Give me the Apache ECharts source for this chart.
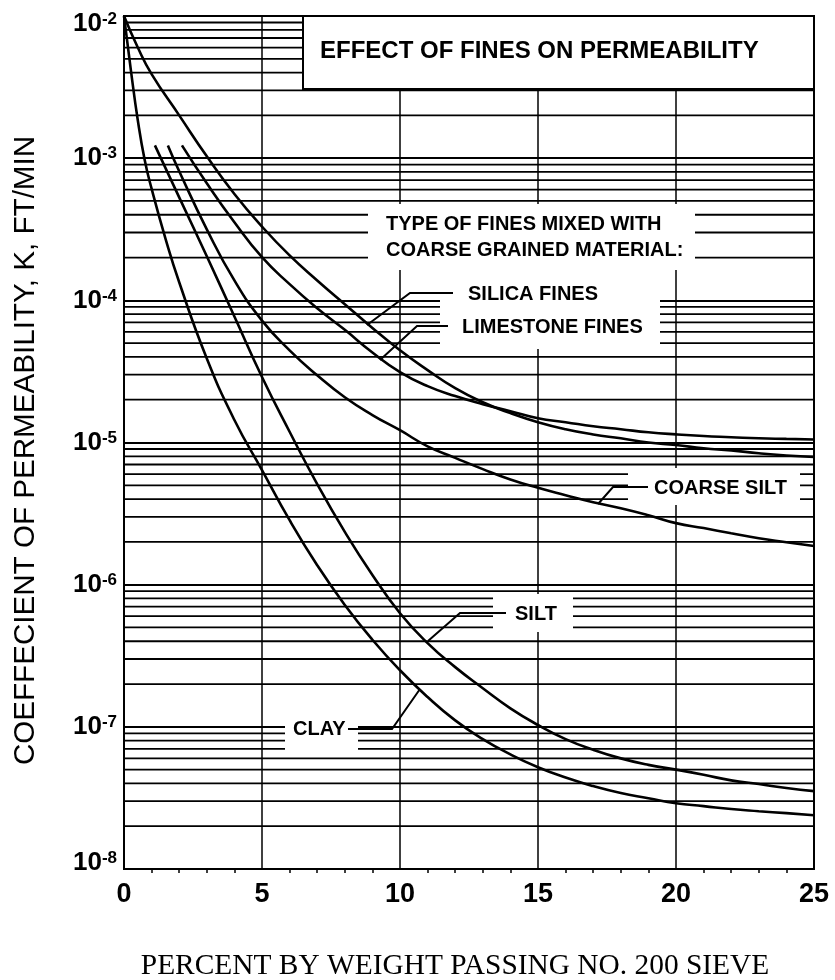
<!DOCTYPE html>
<html>
<head>
<meta charset="utf-8">
<script src="https://cdn.jsdelivr.net/npm/echarts@6/dist/echarts.min.js"></script>
<style>
html,body{margin:0;padding:0;background:#fff;}
#chart{width:835px;height:980px;}
</style>
</head>
<body>
<div id="chart"></div>
<script>
// ---------------- data ----------------
const xTickLabels = ['0', '5', '10', '15', '20', '25'];
const yMin = 1e-8, yMax = 1e-2;
const minorMultipliers = [2, 3, 4, 5, 6, 7, 8, 9];

const silicaX = [0, 0.5, 1, 2, 3, 4, 5, 6, 7, 8, 9, 10, 11, 12, 13, 14, 15, 16, 17, 18, 19, 20, 21, 22, 23, 24, 25];
const silicaK = [1.0e-2, 6.0e-3, 3.9e-3, 2.0e-3, 1.03e-3, 5.6e-4, 3.3e-4, 2.07e-4, 1.38e-4, 9.4e-5, 6.4e-5, 4.45e-5, 3.23e-5, 2.41e-5, 1.92e-5, 1.61e-5, 1.39e-5, 1.24e-5, 1.14e-5, 1.07e-5, 1.0e-5, 9.6e-6, 9.1e-6, 8.8e-6, 8.4e-6, 8.1e-6, 7.9e-6];

const limestoneX = [2.1, 3, 4, 5, 6, 7, 8, 9, 10, 11, 12, 13, 14, 15, 16, 17, 18, 19, 20, 21, 22, 23, 24, 25];
const limestoneK = [1.23e-3, 6.65e-4, 3.54e-4, 2.01e-4, 1.30e-4, 8.8e-5, 6.2e-5, 4.3e-5, 3.13e-5, 2.49e-5, 2.12e-5, 1.86e-5, 1.66e-5, 1.48e-5, 1.39e-5, 1.30e-5, 1.24e-5, 1.18e-5, 1.14e-5, 1.11e-5, 1.09e-5, 1.07e-5, 1.06e-5, 1.05e-5];

const coarseSiltX = [1.59, 2, 3, 4, 5, 6, 7, 8, 9, 10, 11, 12, 13, 14, 15, 16, 17, 18, 19, 20, 21, 22, 23, 24, 25];
const coarseSiltK = [1.23e-3, 8.1e-4, 3.16e-4, 1.38e-4, 7.2e-5, 4.45e-5, 2.97e-5, 2.08e-5, 1.56e-5, 1.22e-5, 9.4e-6, 7.8e-6, 6.5e-6, 5.5e-6, 4.8e-6, 4.26e-6, 3.8e-6, 3.45e-6, 3.08e-6, 2.71e-6, 2.5e-6, 2.3e-6, 2.12e-6, 1.99e-6, 1.87e-6];

const siltX = [1.12, 2, 3, 4, 5, 6, 7, 8, 9, 10, 11, 12, 13, 14, 15, 16, 17, 18, 19, 20, 21, 22, 23, 24, 25];
const siltK = [1.23e-3, 5.3e-4, 2.04e-4, 7.7e-5, 2.89e-5, 1.19e-5, 5.1e-6, 2.35e-6, 1.17e-6, 6.3e-7, 3.88e-7, 2.63e-7, 1.87e-7, 1.35e-7, 1.03e-7, 8.2e-8, 6.9e-8, 6.0e-8, 5.4e-8, 5.0e-8, 4.6e-8, 4.2e-8, 3.96e-8, 3.71e-8, 3.53e-8];

const clayX = [0, 0.25, 0.5, 0.75, 1, 1.5, 2, 3, 4, 5, 6, 7, 8, 9, 10, 11, 12, 13, 14, 15, 16, 17, 18, 19, 20, 21, 22, 23, 24, 25];
const clayK = [1.0e-2, 4.15e-3, 1.85e-3, 9.7e-4, 6.1e-4, 2.73e-4, 1.34e-4, 3.9e-5, 1.44e-5, 6.4e-6, 2.84e-6, 1.37e-6, 7.2e-7, 4.1e-7, 2.5e-7, 1.62e-7, 1.11e-7, 8.2e-8, 6.4e-8, 5.2e-8, 4.4e-8, 3.83e-8, 3.42e-8, 3.15e-8, 2.9e-8, 2.77e-8, 2.64e-8, 2.55e-8, 2.47e-8, 2.39e-8];

// ---------------- chart ----------------
const SANS = '"Liberation Sans", Arial, sans-serif';
const SERIF = '"Liberation Serif", "Times New Roman", serif';
const chart = echarts.init(document.getElementById('chart'), null, {renderer: 'canvas'});

function pairs(xs, ys) { return xs.map((x, i) => [x, ys[i]]); }

// minor horizontal grid values (2..9 x each decade of the axis)
const minorGrid = [];
for (let e = Math.round(Math.log10(yMin)); e < Math.round(Math.log10(yMax)); e++) {
  minorMultipliers.forEach(m => minorGrid.push([0, m * Math.pow(10, e)]));
}

function curve(name, xs, ys) {
  return {
    name: name, type: 'line', data: pairs(xs, ys), smooth: 0.5,
    symbol: 'none', z: 5, silent: true,
    lineStyle: {color: '#000', width: 2.6}
  };
}

function label(text, x, y, size) {
  return {type: 'text', x: x, y: y, z: 10, silent: true,
    style: {text: text, fontFamily: SANS, fontWeight: 'bold', fontSize: size || 20,
      fill: '#000', align: 'left', verticalAlign: 'middle'}};
}
function leader(points) {
  return {type: 'polyline', z: 10, silent: true, shape: {points: points},
    style: {stroke: '#000', lineWidth: 2, fill: null}};
}
function mask(x, y, w, h) {
  return {type: 'rect', z: 3, silent: true, shape: {x: x, y: y, width: w, height: h},
    style: {fill: '#fff', stroke: null}};
}

const option = {
  animation: false,
  backgroundColor: '#fff',
  grid: {left: 124, right: 21, top: 16, bottom: 111, containLabel: false, outerBoundsMode: 'none',
    show: true, borderColor: '#000', borderWidth: 2, backgroundColor: 'transparent'},
  xAxis: {
    type: 'value', min: 0, max: 25, interval: 5,
    name: 'PERCENT BY WEIGHT PASSING NO. 200 SIEVE',
    nameLocation: 'middle', nameGap: 83,
    nameTextStyle: {fontFamily: SERIF, fontSize: 29.4, color: '#000', padding: [0, 28, 0, 0]},
    axisLine: {show: true, lineStyle: {color: '#000', width: 2}},
    axisTick: {show: false},
    minorTick: {show: true, splitNumber: 5, length: 4, lineStyle: {color: '#000', width: 1.5}},
    axisLabel: {
      margin: 12, fontFamily: SANS, fontSize: 27, fontWeight: 'bold', color: '#000',
      showMinLabel: true, showMaxLabel: true,
      formatter: (v) => xTickLabels[Math.round(v / 5)]
    },
    splitLine: {show: true, lineStyle: {color: '#000', width: 1.5}}
  },
  yAxis: {
    type: 'log', logBase: 10, min: yMin, max: yMax,
    name: 'COEFFECIENT OF PERMEABILITY, K, FT/MIN',
    nameLocation: 'middle', nameGap: 83,
    nameTextStyle: {fontFamily: SANS, fontSize: 29.6, color: '#000', padding: [0, 16, 0, 0]},
    axisLine: {show: true, lineStyle: {color: '#000', width: 2}},
    axisTick: {show: false},
    splitLine: {show: true, lineStyle: {color: '#000', width: 1.8}},
    axisLabel: {
      margin: 7, color: '#000',
      formatter: function (v) {
        const e = Math.round(Math.log10(v));
        const core = '{b|10}{s|' + e + '}';
        if (e === Math.round(Math.log10(yMax))) return '{g1| }\n' + core;
        if (e === Math.round(Math.log10(yMin))) return core + '\n{g2| }';
        return core;
      },
      rich: {
        b: {fontFamily: SANS, fontSize: 26, fontWeight: 'bold', color: '#000', lineHeight: 26},
        s: {fontFamily: SANS, fontSize: 17, fontWeight: 'bold', color: '#000', lineHeight: 16, verticalAlign: 'top'},
        g1: {fontSize: 1, lineHeight: 16},
        g2: {fontSize: 1, lineHeight: 12}
      }
    }
  },
  series: [
    {
      name: 'minor grid', type: 'custom', z: 1, silent: true,
      data: minorGrid,
      encode: {x: 0, y: 1},
      renderItem: function (params, api) {
        const v = api.value(1);
        const p1 = api.coord([0, v]);
        const p2 = api.coord([25, v]);
        return {type: 'line', shape: {x1: p1[0], y1: p1[1], x2: p2[0], y2: p2[1]},
          style: {stroke: '#000', lineWidth: 1.8}};
      }
    },
    curve('SILICA FINES', silicaX, silicaK),
    curve('LIMESTONE FINES', limestoneX, limestoneK),
    curve('COARSE SILT', coarseSiltX, coarseSiltK),
    curve('SILT', siltX, siltK),
    curve('CLAY', clayX, clayK)
  ],
  graphic: {
    elements: [
      // title box
      {type: 'rect', z: 3, silent: true, shape: {x: 303, y: 16, width: 511, height: 73},
        style: {fill: '#fff', stroke: '#000', lineWidth: 2}},
      // white label backgrounds interrupting the grid
      mask(368, 204, 327, 66),
      mask(440, 270, 220, 79),
      mask(628, 468, 172, 37),
      mask(493, 594, 80, 38),
      mask(285, 722, 73, 31),
      // texts
      label('EFFECT OF FINES ON PERMEABILITY', 320, 51, 24),
      label('TYPE OF FINES MIXED WITH', 386, 224, 20),
      label('COARSE GRAINED MATERIAL:', 386, 250, 20),
      label('SILICA FINES', 468, 294, 20),
      label('LIMESTONE FINES', 462, 327, 20),
      label('COARSE SILT', 654, 488, 20),
      label('SILT', 515, 614, 20),
      label('CLAY', 293, 729, 20),
      // leaders
      leader([[367, 325], [410, 293], [453, 293]]),
      leader([[380, 360], [417, 326], [448, 326]]),
      leader([[598, 504], [613, 487], [648, 487]]),
      leader([[428, 641], [460, 613], [506, 613]]),
      leader([[420, 689], [392, 729], [348, 729]])
    ]
  }
};
chart.setOption(option);
</script>
</body>
</html>
